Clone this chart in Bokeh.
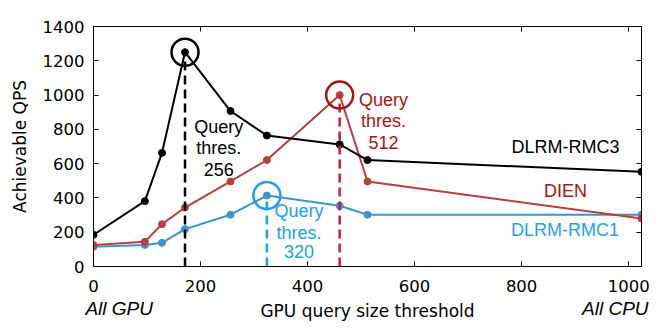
import numpy as np
from bokeh.plotting import figure
from bokeh.models import Range1d, LinearAxis, Label, FixedTicker
from bokeh.embed import file_html
from bokeh.resources import INLINE

# ---- data ----
thresholds = [0, 96, 128, 171, 256, 324, 460, 512, 1024]
rmc3 = [185, 381, 663, 1250, 907, 764, 712, 621, 552]
dien = [125, 144, 247, 344, 496, 621, 1000, 496, 280]
rmc1 = [115, 126, 138, 218, 302, 414, 354, 302, 302]
series_names = ["DLRM-RMC3", "DIEN", "DLRM-RMC1"]
query_labels = ["256", "512", "320"]
x_ticks = [0, 200, 400, 600, 800, 1000]
y_ticks = [0, 200, 400, 600, 800, 1000, 1200, 1400]
end_labels = {48: "All GPU", 975: "All CPU"}

TICK_FONT = "DejaVu Sans"
ANN_FONT = "Liberation Sans"

p = figure(output_backend="svg", toolbar_location=None,
           x_range=Range1d(0, 1024), y_range=Range1d(0, 1400),
           frame_width=548, frame_height=240,
           min_border_left=93, min_border_top=26, min_border_right=18, min_border_bottom=20,
           y_axis_label="Achievable QPS")
p.xgrid.visible = False
p.ygrid.visible = False
p.outline_line_color = "black"
p.outline_line_width = 1
p.background_fill_color = "white"
p.border_fill_color = "white"

def style_axis(ax):
    ax.major_tick_in = 5
    ax.major_tick_out = 0
    ax.minor_tick_in = 0
    ax.minor_tick_out = 0
    ax.axis_line_color = "black"
    ax.major_tick_line_color = "black"
    ax.major_label_text_font = TICK_FONT
    ax.major_label_text_font_size = "16.5px"
    ax.major_label_text_color = "black"
    ax.axis_label_text_font = TICK_FONT
    ax.axis_label_text_font_size = "17px"
    ax.axis_label_text_font_style = "normal"
    ax.axis_label_text_color = "black"

for ax in (p.xaxis[0], p.yaxis[0]):
    style_axis(ax)

p.xaxis[0].ticker = FixedTicker(ticks=x_ticks)
p.yaxis[0].ticker = FixedTicker(ticks=y_ticks)
p.xaxis[0].major_label_standoff = 13
p.yaxis[0].major_label_standoff = 9
p.yaxis[0].axis_label_standoff = 10

# second bottom axis: italic end labels + the axis title on the same row
end_ax = LinearAxis(ticker=FixedTicker(ticks=list(end_labels.keys())),
                    major_label_overrides=end_labels,
                    axis_label="GPU query size threshold")
style_axis(end_ax)
end_ax.axis_line_color = None
end_ax.major_tick_line_color = None
end_ax.major_tick_in = 0
end_ax.major_label_standoff = 3
end_ax.major_label_text_font = ANN_FONT
end_ax.major_label_text_font_size = "19px"
end_ax.major_label_text_font_style = "italic"
end_ax.axis_label_standoff = -21
p.add_layout(end_ax, "below")

# mirrored tick-only axes
top = LinearAxis(ticker=FixedTicker(ticks=x_ticks), major_label_text_font_size="0px",
                 major_tick_in=5, major_tick_out=0, minor_tick_in=0, minor_tick_out=0,
                 major_label_standoff=0)
right = LinearAxis(ticker=FixedTicker(ticks=y_ticks), major_label_text_font_size="0px",
                   major_tick_in=5, major_tick_out=0, minor_tick_in=0, minor_tick_out=0,
                   major_label_standoff=0)
top.major_label_text_alpha = 0
right.major_label_text_alpha = 0
p.add_layout(top, "above")
p.add_layout(right, "right")

line_cols = ["black", "#B5403F", "#3D95C5"]
accent_cols = ["black", "#A41616", "#1E9FEF"]
dash_cols = ["black", "#C41E3A", "#1E9FEF"]
all_series = [rmc3, dien, rmc1]

# series lines
for ys, c in [(rmc1, line_cols[2]), (dien, line_cols[1]), (rmc3, line_cols[0])]:
    p.line(thresholds, ys, line_color=c, line_width=2)
    p.scatter(thresholds, ys, size=7, fill_color=c, line_color=c)

# threshold markers: dashed verticals and circles at each series' peak
for ys, dc, ac in zip(all_series, dash_cols, accent_cols):
    i = int(np.argmax(ys))
    p.segment(x0=[thresholds[i]], y0=[0], x1=[thresholds[i]], y1=[ys[i]],
              line_color=dc, line_width=2.5, line_dash="9 5")
    p.scatter([thresholds[i]], [ys[i]], size=27, fill_color=None,
              line_color=ac, line_width=2.5)

# annotation text
def add_text(x, y, t, color, font=ANN_FONT, size="18px", style="normal"):
    p.add_layout(Label(x=x, y=y, text=t, text_color=color, text_font=font,
                       text_font_size=size, text_font_style=style,
                       text_align="center", text_baseline="middle"))

ann_pos = [(234, [815, 693, 565]), (542, [973, 850, 724]), (384, [325, 198, 88])]
for (ax_, ys_), q, col in zip(ann_pos, query_labels, accent_cols):
    add_text(ax_, ys_[0], "Query", col)
    add_text(ax_, ys_[1], "thres.", col)
    add_text(ax_, ys_[2], q, col)

add_text(882, 700, series_names[0], accent_cols[0])
add_text(882, 438, series_names[1], accent_cols[1])
add_text(881, 212, series_names[2], accent_cols[2])

open("out.html", "w").write(file_html(p, INLINE))
